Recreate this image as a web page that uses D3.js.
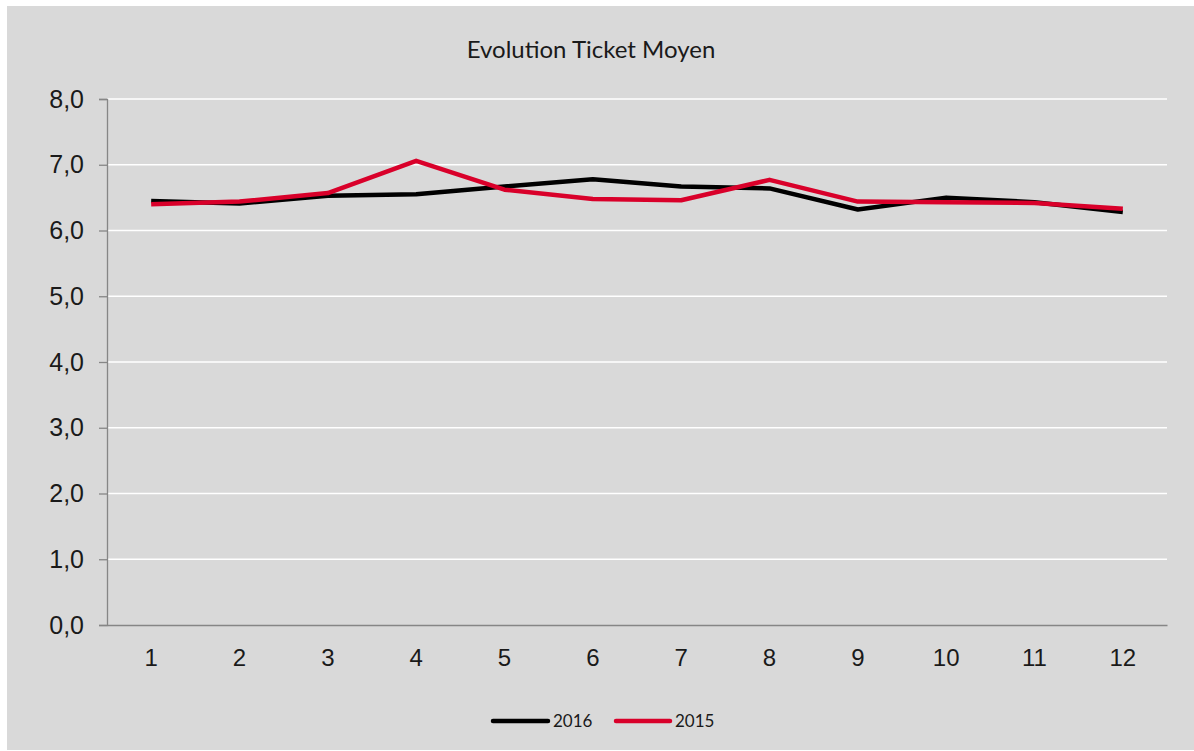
<!DOCTYPE html>
<html><head><meta charset="utf-8">
<script src="https://cdn.jsdelivr.net/npm/d3@7"></script>
<style>
html,body{margin:0;padding:0;background:#fff;}
svg{display:block;font-family:"Lato","DejaVu Sans",sans-serif;}
</style></head>
<body>
<svg id="c" width="1194" height="751"></svg>
<script>
const title = "Evolution Ticket Moyen";
const months = ["1","2","3","4","5","6","7","8","9","10","11","12"];
const values2016 = [6.45,6.41,6.53,6.55,6.67,6.78,6.67,6.64,6.32,6.50,6.43,6.28];
const values2015 = [6.40,6.44,6.57,7.06,6.62,6.48,6.46,6.77,6.44,6.43,6.42,6.33];
const yTicks = [0,1,2,3,4,5,6,7,8];
const seriesNames = ["2016","2015"];
const seriesColors = ["#000000","#d9002a"];

const svg = d3.select("#c");
svg.append("rect").attr("x",7).attr("y",6).attr("width",1187).attr("height",744).attr("fill","#d9d9d9");

const m = {left:107,right:1167,top:99,bottom:625};
const x = d3.scaleBand().domain(months).range([m.left,m.right]);
const y = d3.scaleLinear().domain([0,8]).range([m.bottom,m.top]);
const fmt = d => d3.format(".1f")(d).replace(".",",");

// gridlines
svg.append("g").selectAll("line").data(yTicks.filter(d=>d>0)).join("line")
  .attr("x1",m.left).attr("x2",m.right)
  .attr("y1",d=>y(d)).attr("y2",d=>y(d))
  .attr("stroke","#ffffff").attr("stroke-width",1.5);

// y axis
const ya = svg.append("g").attr("transform",`translate(${m.left},0)`)
  .call(d3.axisLeft(y).tickValues(yTicks).tickFormat(fmt).tickSize(8).tickPadding(15));
ya.select(".domain").attr("stroke","#868686").attr("stroke-width",1.3);
ya.selectAll(".tick line").attr("stroke","#868686").attr("stroke-width",1.3);
ya.selectAll("text").attr("font-size",25).attr("fill","#1a1a1a");

// x axis
const xa = svg.append("g").attr("transform",`translate(0,${m.bottom})`)
  .call(d3.axisBottom(x).tickSize(0).tickSizeOuter(0));
xa.select(".domain").attr("stroke","#868686").attr("stroke-width",1.3);
xa.selectAll("text").attr("font-size",24).attr("fill","#1a1a1a").attr("dy",0).attr("y",41);

// lines
const line = d3.line().x((d,i)=>x(months[i])+x.bandwidth()/2).y(d=>y(d));
[values2016, values2015].forEach((vals,k)=>{
  svg.append("path").datum(vals).attr("d",line)
    .attr("fill","none").attr("stroke",seriesColors[k]).attr("stroke-width",4.5)
    .attr("stroke-linejoin","round");
});

// title
svg.append("text").attr("x",591).attr("y",58).attr("text-anchor","middle")
  .attr("font-size",24).attr("fill","#1a1a1a").text(title);

// legend
const lg = [{x1:493,x2:548,tx:553},{x1:616,x2:670,tx:675}];
seriesNames.forEach((n,k)=>{
  svg.append("line").attr("x1",lg[k].x1).attr("x2",lg[k].x2).attr("y1",721).attr("y2",721)
    .attr("stroke",seriesColors[k]).attr("stroke-width",4.5).attr("stroke-linecap","round");
  svg.append("text").attr("x",lg[k].tx).attr("y",727).attr("font-size",17).attr("fill","#1a1a1a").text(n);
});
</script>
</body></html>
